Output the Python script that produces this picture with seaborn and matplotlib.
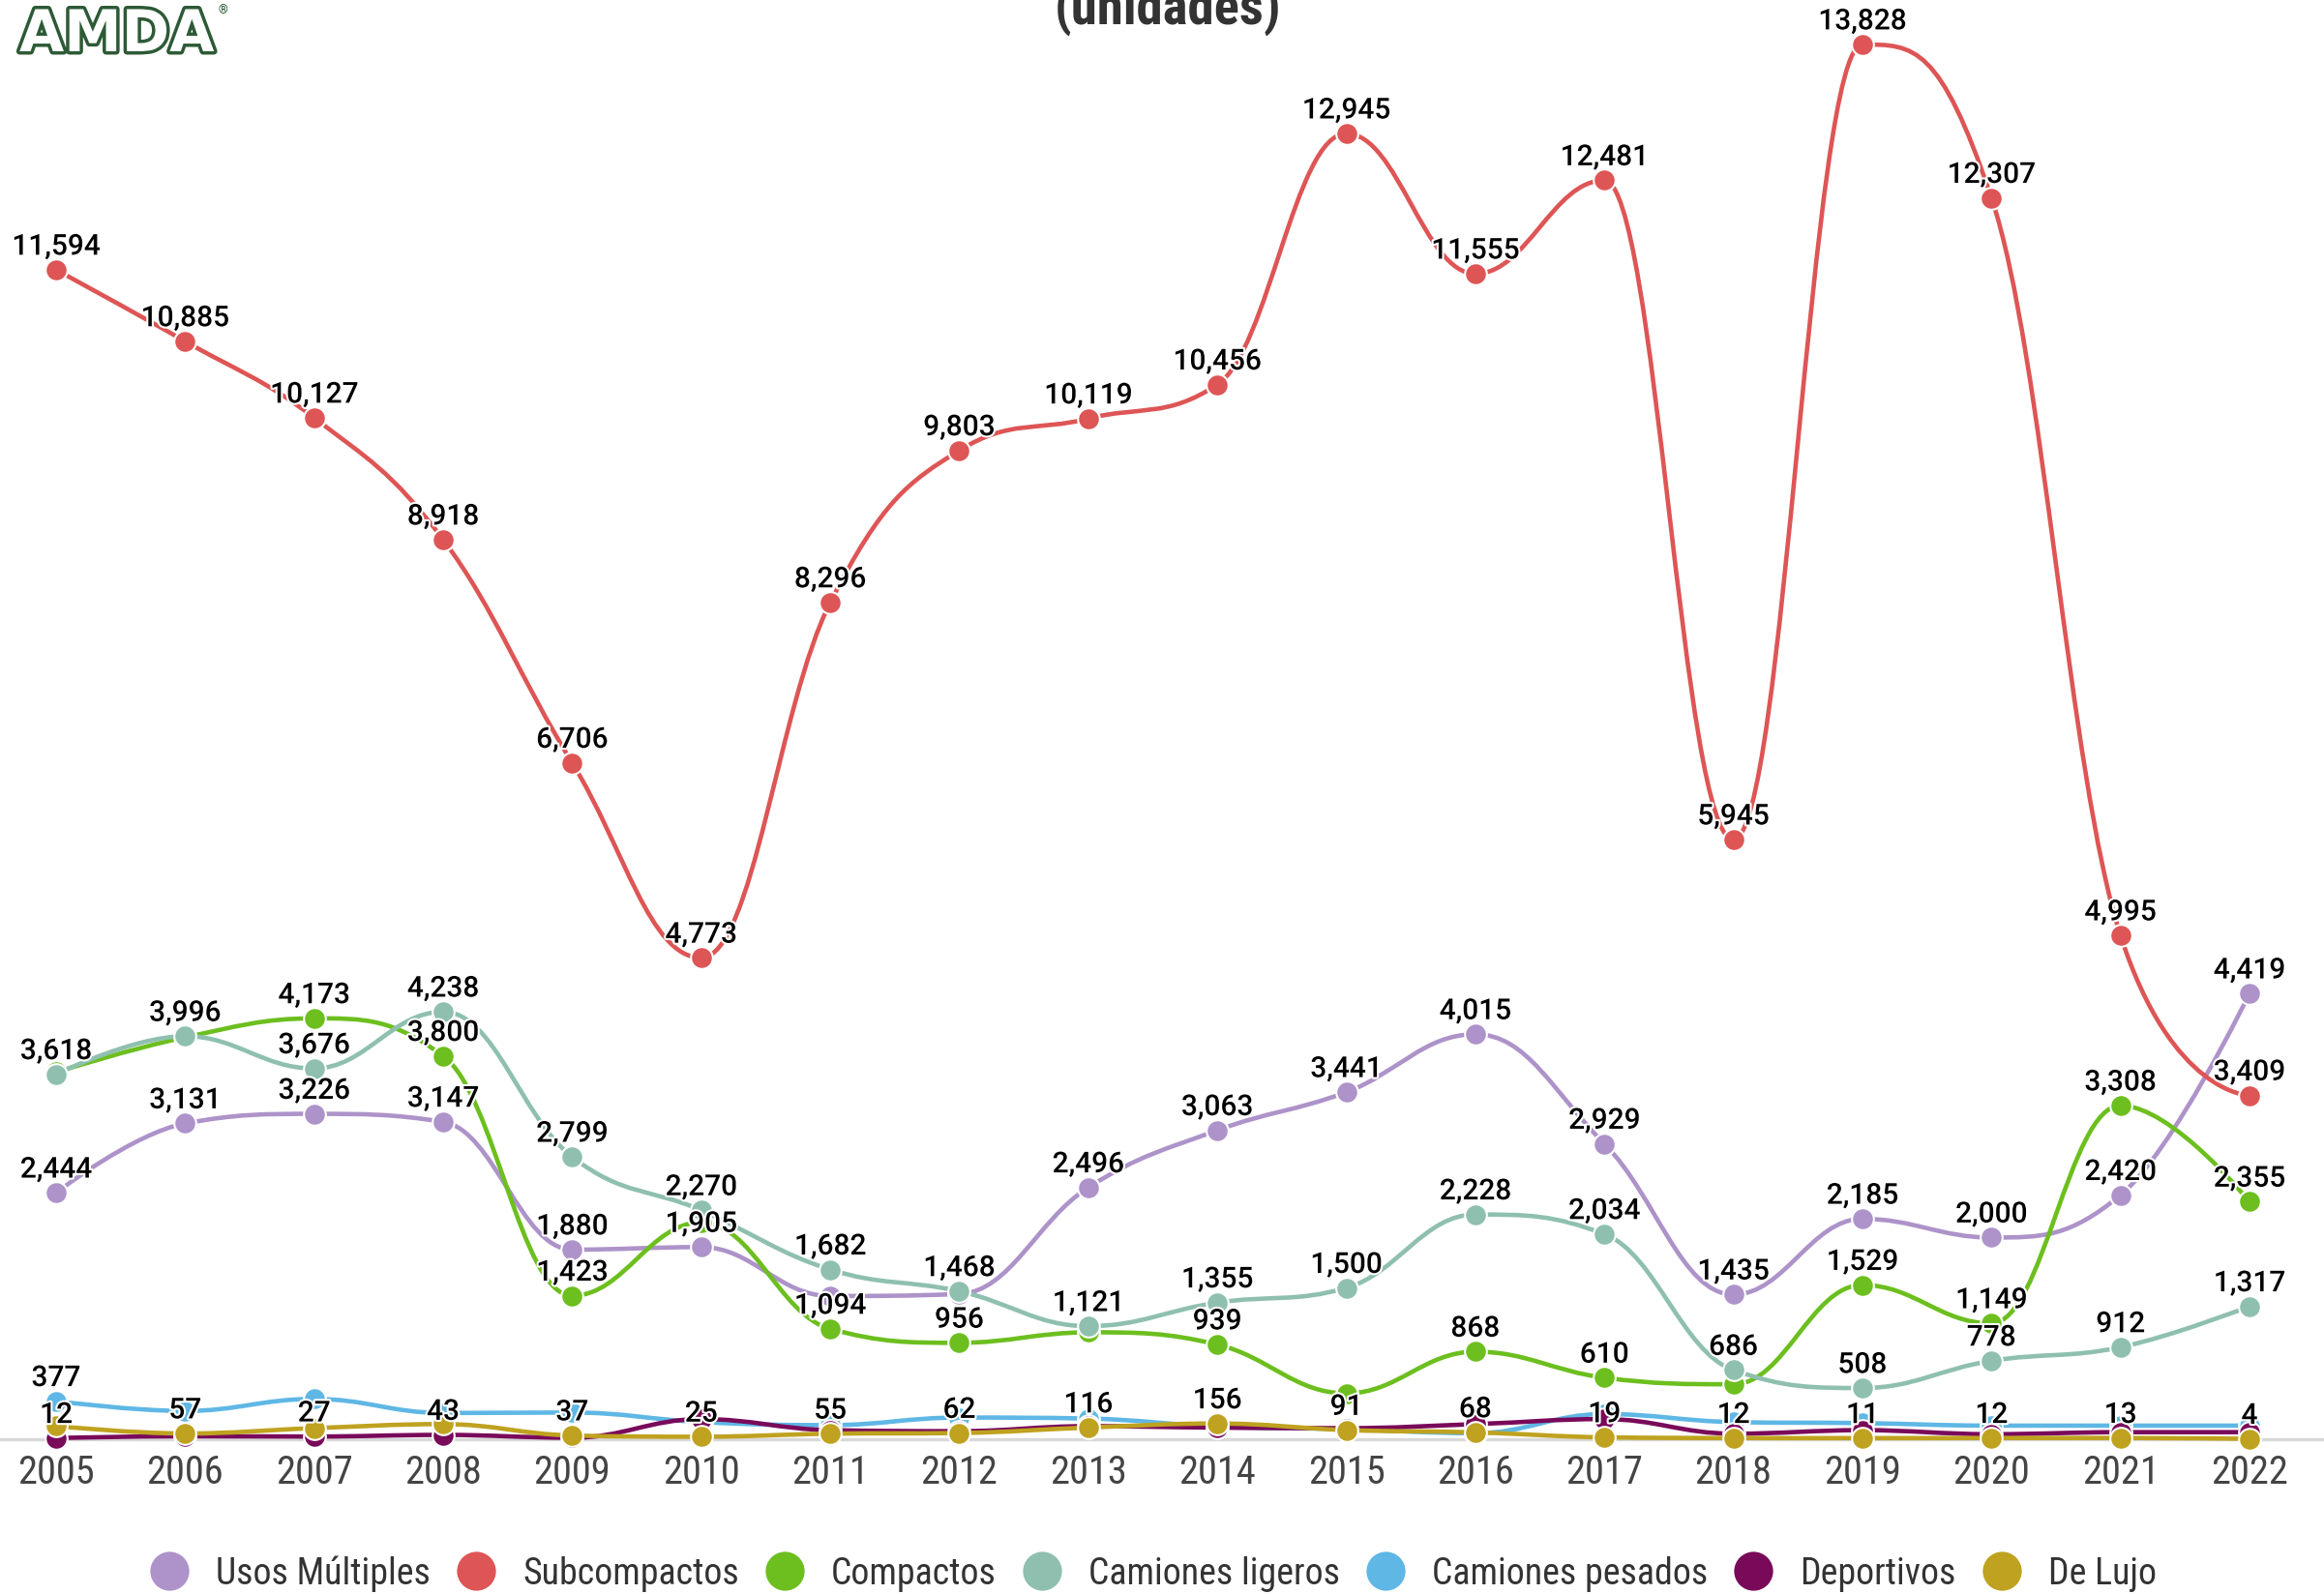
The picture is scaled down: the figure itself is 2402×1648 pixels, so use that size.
import matplotlib
matplotlib.use("Agg")
import matplotlib.pyplot as plt
import matplotlib.patheffects as pe
from matplotlib import font_manager as fm
from matplotlib.path import Path
from matplotlib.patches import PathPatch
from matplotlib.lines import Line2D
import numpy as np
import pandas as pd
import seaborn as sns

# ---- data (unidades) ----
years = list(range(2005, 2023))

usos_multiples = [2444, 3131, 3226, 3147, 1880, 1905, 1420, 1440, 2496, 3063,
                  3441, 4015, 2929, 1435, 2185, 2000, 2420, 4419]
subcompactos = [11594, 10885, 10127, 8918, 6706, 4773, 8296, 9803, 10119, 10456,
                12945, 11555, 12481, 5945, 13828, 12307, 4995, 3409]
compactos = [3640, 3985, 4173, 3800, 1423, 2150, 1094, 956, 1060, 939,
             455, 868, 610, 545, 1529, 1149, 3308, 2355]
camiones_ligeros = [3618, 3996, 3676, 4238, 2799, 2270, 1682, 1468, 1121, 1355,
                    1500, 2228, 2034, 686, 508, 778, 912, 1317]
camiones_pesados = [377, 280, 400, 260, 265, 170, 140, 215, 205, 125,
                    100, 60, 250, 170, 160, 135, 135, 135]
deportivos = [12, 30, 27, 43, 15, 200, 90, 80, 130, 115,
              110, 150, 200, 55, 90, 50, 70, 70]
de_lujo = [130, 57, 110, 150, 37, 25, 55, 62, 116, 156,
           91, 68, 19, 12, 11, 12, 13, 4]

series_names = ["Usos Múltiples", "Subcompactos", "Compactos", "Camiones ligeros",
                "Camiones pesados", "Deportivos", "De Lujo"]
series_values = [usos_multiples, subcompactos, compactos, camiones_ligeros,
                 camiones_pesados, deportivos, de_lujo]
series_colors = ["#ad93c9", "#de5555", "#6cbf1e", "#8fc0af",
                 "#5fb7e5", "#790a5a", "#bfa21f"]

# data labels that are not drawn because they would collide with others
hidden_labels = {
    "Usos Múltiples": [2011, 2012],
    "Subcompactos": [],
    "Compactos": [2005, 2006, 2010, 2013, 2015, 2018],
    "Camiones ligeros": [],
    "Camiones pesados": list(range(2006, 2023)),
    "Deportivos": [2006] + list(range(2009, 2023)),
    "De Lujo": [2005, 2007, 2008],
}

df = pd.DataFrame({"year": years * len(series_names),
                   "serie": np.repeat(series_names, len(years)),
                   "value": np.concatenate(series_values)})


def spline_vertices(xs, ys, smoothing=1.5):
    """Cubic bezier control points with the classic 'spline' smoothing."""
    n = len(xs)
    lc = [(xs[i], ys[i]) for i in range(n)]
    rc = [(xs[i], ys[i]) for i in range(n)]
    d = smoothing + 1
    for i in range(1, n - 1):
        px, py = xs[i], ys[i]
        lx, ly = xs[i - 1], ys[i - 1]
        nx, ny = xs[i + 1], ys[i + 1]
        lcx = (smoothing * px + lx) / d
        lcy = (smoothing * py + ly) / d
        rcx = (smoothing * px + nx) / d
        rcy = (smoothing * py + ny) / d
        if rcx != lcx:
            corr = ((rcy - lcy) * (rcx - px)) / (rcx - lcx) + py - rcy
            lcy += corr
            rcy += corr
        if lcy > ly and lcy > py:
            lcy = max(ly, py); rcy = 2 * py - lcy
        elif lcy < ly and lcy < py:
            lcy = min(ly, py); rcy = 2 * py - lcy
        if rcy > ny and rcy > py:
            rcy = max(ny, py); lcy = 2 * py - rcy
        elif rcy < ny and rcy < py:
            rcy = min(ny, py); lcy = 2 * py - rcy
        lc[i] = (lcx, lcy)
        rc[i] = (rcx, rcy)
    verts = [(xs[0], ys[0])]
    codes = [Path.MOVETO]
    for i in range(1, n):
        verts += [rc[i - 1], lc[i], (xs[i], ys[i])]
        codes += [Path.CURVE4] * 3
    return verts, codes


def first_font(candidates):
    for name in candidates:
        try:
            fm.findfont(fm.FontProperties(family=name), fallback_to_default=False)
            return name
        except Exception:
            continue
    return "DejaVu Sans"


sns.set_theme(style="white")
plt.rcParams["font.family"] = ["Roboto", "DejaVu Sans"]
narrow_name = first_font(["Roboto Condensed", "Liberation Sans Narrow",
                          "Arial Narrow", "Liberation Sans"])
narrow = [narrow_name, "DejaVu Sans"]

W, H = 2402, 1648
fig = plt.figure(figsize=(W / 100, H / 100), dpi=100)
renderer = fig.canvas.get_renderer()


def fit_size(text, target_px, weight="normal", probe=30):
    t = fig.text(0, 0, text, fontsize=probe, family=narrow, fontweight=weight)
    w = t.get_window_extent(renderer).width
    t.remove()
    return probe * target_px / w


tick_size = fit_size("2005", 80)
legend_size = fit_size("Camiones pesados", 285)
title_size = fit_size("(unidades)", 234, weight="bold")

base_px = 1488
ax = fig.add_axes([0, 1 - base_px / H, 1, base_px / H])
px_per_unit = (1488 - 46) / 13828.0
step = (2325 - 58) / 17.0
ax.set_xlim(2005 - 58 / step, 2022 + 77 / step)
ax.set_ylim(0, base_px / px_per_unit)

for k, (name, vals, col) in enumerate(zip(series_names, series_values, series_colors)):
    verts, codes = spline_vertices([float(y) for y in years], [float(v) for v in vals])
    ax.add_patch(PathPatch(Path(verts, codes), facecolor="none", edgecolor=col,
                           lw=3.3, zorder=2 + 2 * k, clip_on=False,
                           capstyle="round", joinstyle="round"))
    sub = df[df["serie"] == name]
    sns.scatterplot(data=sub, x="year", y="value", color=col, s=265,
                    edgecolor="white", linewidth=1.5, ax=ax, legend=False,
                    zorder=3 + 2 * k, clip_on=False)
    for yr, v in zip(years, vals):
        if yr in hidden_labels[name]:
            continue
        ax.annotate(f"{v:,}", (yr, v), xytext=(0, 17), textcoords="offset points",
                    ha="center", va="center", fontsize=21.5, fontweight="medium",
                    color="black", zorder=30, annotation_clip=False,
                    path_effects=[pe.withStroke(linewidth=3, foreground="white")])

ax.set_xlabel("")
ax.set_ylabel("")
ax.set_xticks(years)
ax.set_xticklabels([str(y) for y in years])
ax.set_yticks([])
ax.tick_params(axis="x", length=0, pad=11, labelsize=tick_size, labelcolor="#444444")
for lbl in ax.get_xticklabels():
    lbl.set_family(narrow)
for s in ["top", "left", "right"]:
    ax.spines[s].set_visible(False)
ax.spines["bottom"].set_color("#d8d8d8")
ax.spines["bottom"].set_linewidth(2.4)
ax.spines["bottom"].set_zorder(1)
ax.patch.set_alpha(0)

# title (upper lines sit above the canvas)
fig.text(1207 / W, 1 - 25 / H, "(unidades)", ha="center", va="baseline",
         fontsize=title_size, fontweight="bold", color="#333333", family=narrow)

# logo
fig.text(20 / W, 1 - 53 / H, "AMDA", ha="left", va="baseline", fontsize=43,
         fontweight="bold", color="white", family=["DejaVu Sans"],
         path_effects=[pe.Stroke(linewidth=5, foreground="#2d5a36"), pe.Normal()])
fig.text(226 / W, 1 - 14 / H, "®", ha="left", va="baseline", fontsize=9,
         color="#2d5a36")

em_px = legend_size * 100 / 72
handles = [Line2D([], [], marker="o", linestyle="none", markersize=29,
                  markerfacecolor=c, markeredgecolor="none") for c in series_colors]
leg = fig.legend(handles, series_names, loc="center", ncol=7, frameon=False,
                 bbox_to_anchor=(1192 / W, 1 - 1627 / H), handlelength=40 / em_px,
                 handletextpad=28 / em_px, columnspacing=27 / em_px,
                 prop={"family": narrow, "size": legend_size})
for t in leg.get_texts():
    t.set_color("#333333")

fig.savefig("out.png", dpi=100, facecolor="white")
